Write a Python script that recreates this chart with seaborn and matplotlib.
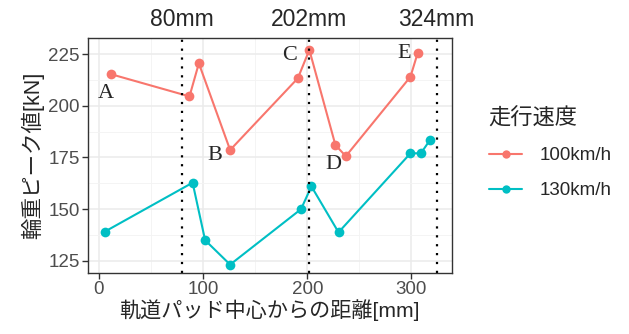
import numpy as np
import pandas as pd
import matplotlib.pyplot as plt
from matplotlib.ticker import MultipleLocator
from matplotlib.lines import Line2D
import seaborn as sns

# 距離[mm] と 輪重ピーク値[kN]
dist_100 = [12, 87, 96, 126, 191, 202, 227, 237, 299, 306]
load_100 = [215.2, 204.5, 220.5, 178.6, 213.3, 227.0, 181.0, 175.6, 214.0, 225.6]
dist_130 = [6, 90, 102, 126, 194, 204, 230, 299, 309, 318]
load_130 = [139.2, 162.8, 135.0, 123.2, 150.0, 161.0, 138.8, 177.0, 177.0, 183.6]
speeds = ['100km/h', '130km/h']
pads = [80, 202, 324]
pad_labels = ['80mm', '202mm', '324mm']
letters = ['A', 'B', 'C', 'D', 'E']
letter_x = [7, 111, 183, 225, 293]
letter_y = [206, 176, 224.5, 171.5, 225.3]

df = pd.DataFrame({
    'dist': dist_100 + dist_130,
    'load': load_100 + load_130,
    'speed': [speeds[0]] * len(dist_100) + [speeds[1]] * len(dist_130),
})

sns.set_style('white')
plt.rcParams['font.family'] = ['Liberation Sans', 'Noto Sans CJK JP']
colors = {'100km/h': '#F8766D', '130km/h': '#00BFC4'}

fig = plt.figure(figsize=(6.29, 3.34), dpi=100)
ax = fig.add_axes([0.140, 0.183, 0.578, 0.703])

sns.lineplot(data=df, x='dist', y='load', hue='speed', palette=colors,
             marker='o', markersize=7, markeredgewidth=0, linewidth=1.5,
             sort=False, legend=False, ax=ax)

for p, lab in zip(pads, pad_labels):
    ax.axvline(p, color='black', linestyle=(0, (1, 3)), linewidth=1.6)
    ax.text(p, 1.08, lab, transform=ax.get_xaxis_transform(), ha='center',
            va='center', fontsize=16.5, clip_on=False)

for l, lx, ly in zip(letters, letter_x, letter_y):
    ax.text(lx, ly, l, ha='center', va='center', fontsize=16,
            family='Liberation Serif')

ax.set_xlim(-10.3, 338.5)
ax.set_ylim(119.2, 232.7)
ax.xaxis.set_major_locator(MultipleLocator(100))
ax.xaxis.set_minor_locator(MultipleLocator(50))
ax.yaxis.set_major_locator(MultipleLocator(25))
ax.yaxis.set_minor_locator(MultipleLocator(12.5))
ax.grid(which='major', color='#EBEBEB', linewidth=1.1)
ax.grid(which='minor', color='#F3F3F3', linewidth=0.6)
ax.set_axisbelow(True)
for s in ax.spines.values():
    s.set_color('#333333')
    s.set_linewidth(1.0)
ax.tick_params(axis='both', which='major', length=4, width=1, color='#333333',
               labelsize=13.5, labelcolor='#4D4D4D', pad=2, left=True, bottom=True)
ax.tick_params(which='minor', length=0)
ax.set_xlabel('軌道パッド中心からの距離[mm]', fontsize=15.2, labelpad=1)
ax.set_ylabel('輪重ピーク値[kN]', fontsize=15.5, labelpad=3)

handles = [Line2D([0], [0], color=colors[s], marker='o', markersize=6,
                  markeredgewidth=0, linewidth=1.5) for s in speeds]
leg = fig.legend(handles, speeds, title='走行速度', loc='center left',
                 bbox_to_anchor=(0.75, 0.54), frameon=False, fontsize=13.5,
                 title_fontsize=16, handlelength=1.8, labelspacing=0.95,
                 handletextpad=0.9)
leg._legend_box.align = 'left'

fig.savefig('out.png', dpi=100)
